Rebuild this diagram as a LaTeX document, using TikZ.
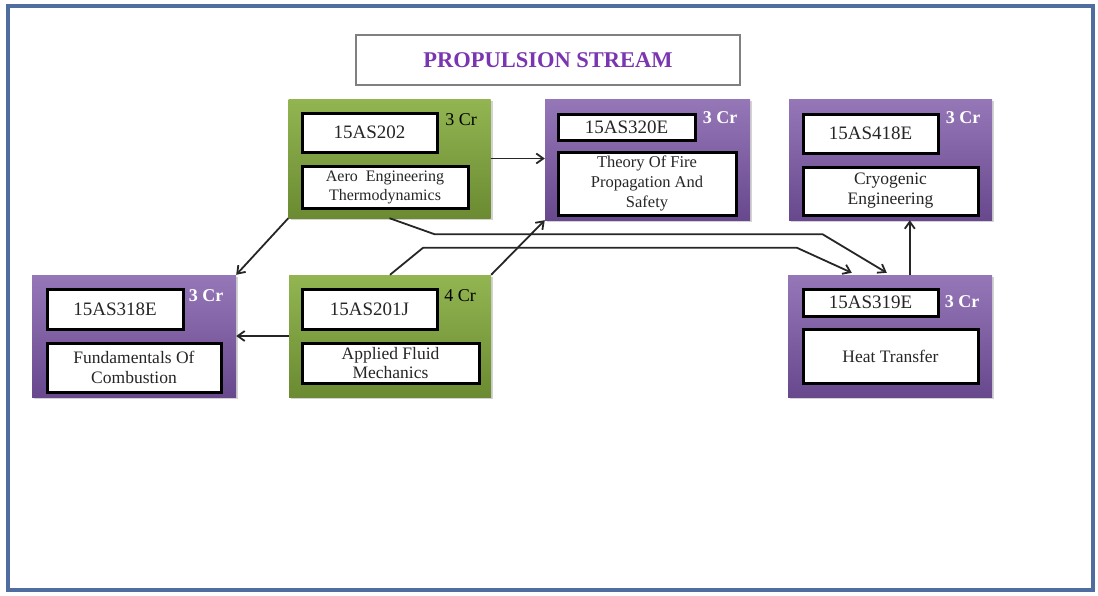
\documentclass[tikz,border=0pt]{standalone}
\usepackage{fontspec}
\setmainfont{Liberation Serif}
\usetikzlibrary{arrows.meta,shadows,calc}
\definecolor{kehys}{HTML}{4F6D9E}
\definecolor{violetti}{HTML}{7B55A6}
\definecolor{vihrea}{HTML}{86AD3E}
\definecolor{otsikko}{HTML}{7A35B0}
\tikzset{
  course/.style={draw=none, minimum width=#1, inner sep=0pt,
    drop shadow={opacity=0.35, shadow xshift=2pt, shadow yshift=-2pt}},
  purplecourse/.style={course=204pt, top color=violetti!80!white, bottom color=violetti!85!black},
  greencourse/.style={course=202pt, top color=vihrea!90!white, bottom color=vihrea!80!black},
  codebox/.style={draw=black, line width=3pt, fill=white, inner sep=0pt,
    font=\fontsize{19}{21}\selectfont, text=black!85},
  namebox/.style={codebox, align=center, font=\fontsize{17.5}{20}\selectfont},
  credit/.style={font=\fontsize{18}{20}\selectfont, inner sep=0pt},
  link/.style={draw=black!85, line width=1.8pt, -{Straight Barb[length=7pt,width=10pt]}}
}
\begin{document}
\begin{tikzpicture}[x=1pt,y=-1pt]
	\useasboundingbox (0,0) rectangle (1098,595);
	%kehys
	\draw[kehys, line width=3.5pt] (8,6) rectangle (1093,590);
	%otsikko
	\node[draw=black!50, line width=2pt, minimum width=384pt, minimum height=50pt, text=otsikko,
	  font=\bfseries\fontsize{22.5}{24}\selectfont] (title) at (548,60) {PROPULSION STREAM};
	%15AS202
	\node[greencourse, minimum height=119pt] (g202) at (389.5,158.5) {};
	\node[codebox, minimum width=135pt, minimum height=39pt] (c202) at (369.5,132.5) {15AS202};
	\node[namebox, minimum width=166pt, minimum height=42pt, font=\fontsize{16}{19}\selectfont] (t202) at (385,187) {Aero\ \ Engineering\\Thermodynamics};
	\node[credit] (k202) at (461,120) {3 Cr};
	%15AS320E
	\node[purplecourse, minimum width=205pt, minimum height=121pt] (p320) at (647.5,159.5) {};
	\node[codebox, minimum width=137pt, minimum height=26pt] (c320) at (626.5,127) {15AS320E};
	\node[namebox, minimum width=178pt, minimum height=63pt, font=\fontsize{16.5}{20}\selectfont] (t320) at (647,183.5) {Theory Of Fire\\Propagation And\\Safety};
	\node[credit, text=white, font=\bfseries\fontsize{18}{20}\selectfont] (k320) at (720,118) {3 Cr};
	%15AS418E
	\node[purplecourse, minimum width=203pt, minimum height=121pt] (p418) at (890.5,159.5) {};
	\node[codebox, minimum width=135pt, minimum height=39pt] (c418) at (870.5,133.5) {15AS418E};
	\node[namebox, minimum width=175pt, minimum height=48pt] (t418) at (890.5,191) {Cryogenic\\Engineering};
	\node[credit, text=white, font=\bfseries\fontsize{18}{20}\selectfont] (k418) at (963,118) {3 Cr};
	%15AS318E
	\node[purplecourse, minimum height=122pt] (p318) at (134,336) {};
	\node[codebox, minimum width=136pt, minimum height=40pt] (c318) at (115,309) {15AS318E};
	\node[namebox, minimum width=174pt, minimum height=49pt] (t318) at (134,367.5) {Fundamentals Of\\Combustion};
	\node[credit, text=white, font=\bfseries\fontsize{18}{20}\selectfont] (k318) at (206,296) {3 Cr};
	%15AS201J
	\node[greencourse, minimum height=122pt] (g201) at (390,336) {};
	\node[codebox, minimum width=135pt, minimum height=40pt] (c201) at (369.5,309) {15AS201J};
	\node[namebox, minimum width=177pt, minimum height=40pt, font=\fontsize{17.5}{19}\selectfont] (t201) at (390.5,363) {Applied Fluid\\Mechanics};
	\node[credit] (k201) at (460,296) {4 Cr};
	%15AS319E
	\node[purplecourse, minimum height=122pt] (p319) at (890,336) {};
	\node[codebox, minimum width=135pt, minimum height=27pt] (c319) at (870.5,302.5) {15AS319E};
	\node[namebox, minimum width=175pt, minimum height=54pt] (t319) at (890.5,356) {Heat Transfer};
	\node[credit, text=white, font=\bfseries\fontsize{18}{20}\selectfont] (k319) at (962,302) {3 Cr};
	%nuolet
	\draw[link] (g202.east) -- (g202.east -| p320.west);
	\draw[link] (g202.south west) -- (p318.north east);
	\draw[link] (g201.west) -- (p318.east);
	\draw[link] (g201.north east) -- (p320.south west);
	\draw[link] (g202.south) -- ++(45,16) -- ++(388,0) -- ($(p319.north west)+(99,-2)$);
	\draw[link] (g201.north) -- ++(33,-27) -- ++(374,0) -- ($(p319.north west)+(64,-2)$);
	\draw[link] ($(p319.north west)+(122,0)$) -- ($(p418.south west)+(121,0)$);
\end{tikzpicture}
\end{document}
